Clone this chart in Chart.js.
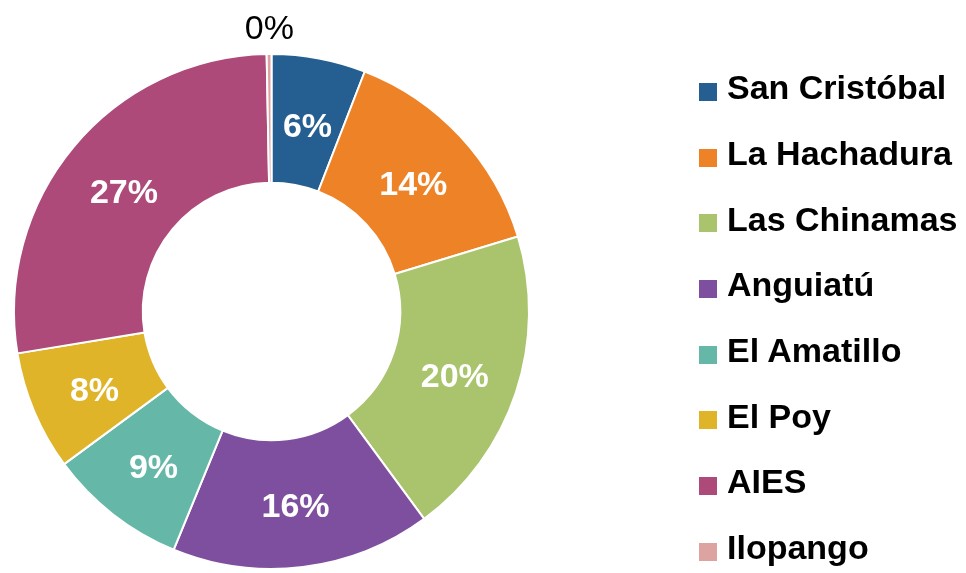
<!DOCTYPE html>
<html lang="es">
<head>
  <meta charset="UTF-8" />
  <title>Distribución por punto fronterizo</title>
  <script src="https://cdn.jsdelivr.net/npm/chart.js"></script>
  <style>
    html, body {
      margin: 0;
      padding: 0;
      background: #fff;
    }
    #wrap {
      position: relative;
      width: 966px;
      height: 573px;
    }
    #legend {
      position: absolute;
      left: 699px;
      top: 55px;
      font-family: "Liberation Sans", Arial, sans-serif;
      font-weight: bold;
      font-size: 34px;
      color: #000;
    }
    .item {
      display: flex;
      align-items: center;
      height: 65.7px;
      white-space: nowrap;
    }
    .box {
      width: 18px;
      height: 18px;
      margin-right: 10px;
      transform: translateY(4px);
    }
  </style>
</head>
<body>
  <div id="wrap">
    <canvas id="donut"></canvas>
    <div id="legend"></div>
  </div>

  <script>
    // share of each border point (percent)
    const points = ['San Cristóbal', 'La Hachadura', 'Las Chinamas', 'Anguiatú',
                    'El Amatillo', 'El Poy', 'AIES', 'Ilopango'];
    const shares = [5.9, 14.4, 19.6, 16.3, 8.7, 7.5, 27.3, 0.3];
    const colors = ['#255e91', '#ed8326', '#a9c46c', '#7f4f9f',
                    '#65b8a8', '#e0b429', '#ad4a7a', '#dda3a0'];

    const FONT = '"Liberation Sans", Arial, sans-serif';

    // percentage labels: white inside the ring, black outside for tiny slices
    const sliceLabels = {
      id: 'sliceLabels',
      afterDatasetsDraw(chart) {
        const ctx = chart.ctx;
        const meta = chart.getDatasetMeta(0);
        const data = chart.data.datasets[0].data;
        const total = data.reduce((a, b) => a + b, 0);
        ctx.save();
        ctx.textAlign = 'center';
        ctx.textBaseline = 'alphabetic';
        meta.data.forEach((arc, i) => {
          const p = arc.getProps(['x', 'y', 'startAngle', 'endAngle', 'innerRadius', 'outerRadius'], true);
          const mid = (p.startAngle + p.endAngle) / 2;
          const pct = Math.round(data[i] / total * 100);
          let r;
          if (pct < 1) {
            r = p.outerRadius + 30;
            ctx.fillStyle = '#000';
            ctx.font = '34px ' + FONT;
          } else {
            r = (p.innerRadius + p.outerRadius) / 2 - 0.5;
            ctx.fillStyle = '#fff';
            ctx.font = 'bold 34px ' + FONT;
          }
          // baseline sits ~12px under the visual centre of the digits
          const cx = p.x + 0.5 + Math.cos(mid) * r;
          const cy = p.y + 1.5 + Math.sin(mid) * r;
          ctx.fillText(pct + '%', cx, cy + 13);
        });
        ctx.restore();
      }
    };

    new Chart(document.getElementById('donut'), {
      type: 'doughnut',
      data: {
        labels: points,
        datasets: [{
          data: shares,
          backgroundColor: colors,
          borderColor: '#fff',
          borderWidth: 2
        }]
      },
      options: {
        responsive: true,
        maintainAspectRatio: false,
        animation: false,
        cutout: '50%',
        layout: {
          padding: { left: 13, right: 436, top: 53, bottom: 3 }
        },
        plugins: {
          legend: { display: false },
          tooltip: { enabled: false }
        }
      },
      plugins: [sliceLabels]
    });

    // legend on the right
    const legend = document.getElementById('legend');
    points.forEach((name, i) => {
      const row = document.createElement('div');
      row.className = 'item';
      const box = document.createElement('span');
      box.className = 'box';
      box.style.background = colors[i];
      const txt = document.createElement('span');
      txt.textContent = name;
      row.appendChild(box);
      row.appendChild(txt);
      legend.appendChild(row);
    });
  </script>
</body>
</html>
